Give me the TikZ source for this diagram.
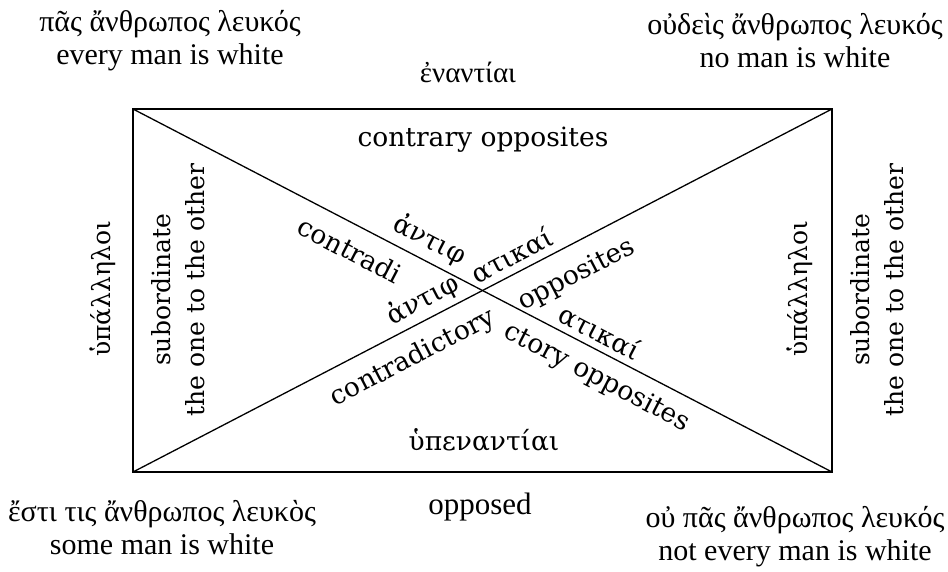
\documentclass[tikz,border=0pt]{standalone}
\usepackage{fontspec}
\setmainfont{Liberation Serif}
\newfontfamily\innerfont{DejaVu Serif}
\begin{document}
\begin{tikzpicture}[x=1pt,y=-1pt,
  lbl/.style={inner sep=0pt, font=\fontsize{30}{33}\selectfont, align=center},
  inner/.style={inner sep=0pt, font=\innerfont\fontsize{26.5}{33}\selectfont, align=center},
  down/.style={inner, rotate=-27.44},
  up/.style={inner, rotate=27.44},
  vert/.style={inner, font=\innerfont\fontsize{25}{34}\selectfont, rotate=90},
  frame/.style={line width=1.8pt},
  diag/.style={line width=1.3pt}]
\useasboundingbox (0,0) rectangle (948,571);
\coordinate (A) at (133,109);
\coordinate (B) at (832,109);
\coordinate (C) at (832,472);
\coordinate (D) at (133,472);
\draw[frame] (A) -- (B) -- (C) -- (D) -- cycle;
\draw[diag] (A) -- (C);
\draw[diag] (D) -- (B);
% corners
\node[lbl] (tl) at (170,41) {πᾶς ἄνθρωπος λευκός\\every man is white};
\node[lbl] (tr) at (795,41) {οὐδεὶς ἄνθρωπος λευκός\\no man is white};
\node[lbl] (bl) at (162,528) {ἔστι τις ἄνθρωπος λευκὸς\\some man is white};
\node[lbl] (br) at (795,537) {οὐ πᾶς ἄνθρωπος λευκός\\not every man is white};
% top / bottom
\node[lbl, font=\fontsize{29}{33}\selectfont] (enant) at (468,72) {ἐναντίαι};
\node[inner] (contr) at (483,140) {contrary opposites};
\node[inner] (hypen) at (484,440) {ὑπεναντίαι};
\node[lbl, font=\fontsize{31}{33}\selectfont] (opp) at (480,507) {opposed};
% sides
\node[vert] (lhyp) at (103,289) {ὑπάλληλοι};
\node[vert] (lsub) at (178,290) {subordinate\\the one to the other};
\node[vert] (rhyp) at (800,289) {ὑπάλληλοι};
\node[vert] (rsub) at (877,290) {subordinate\\the one to the other};
% centre
\node[down] (g1) at (430,240) {ἀντιφ};
\node[down] (g2) at (600,332) {ατικαί};
\node[down] (e1) at (350,250) {contradi};
\node[down] (e2) at (597,378) {ctory opposites};
\node[up] (g3) at (423,300) {ἀντιφ};
\node[up] (g4) at (512,255) {ατικαί};
\node[up] (e3) at (413,358) {contradictory};
\node[up] (e4) at (577,275) {opposites};
\end{tikzpicture}
\end{document}
